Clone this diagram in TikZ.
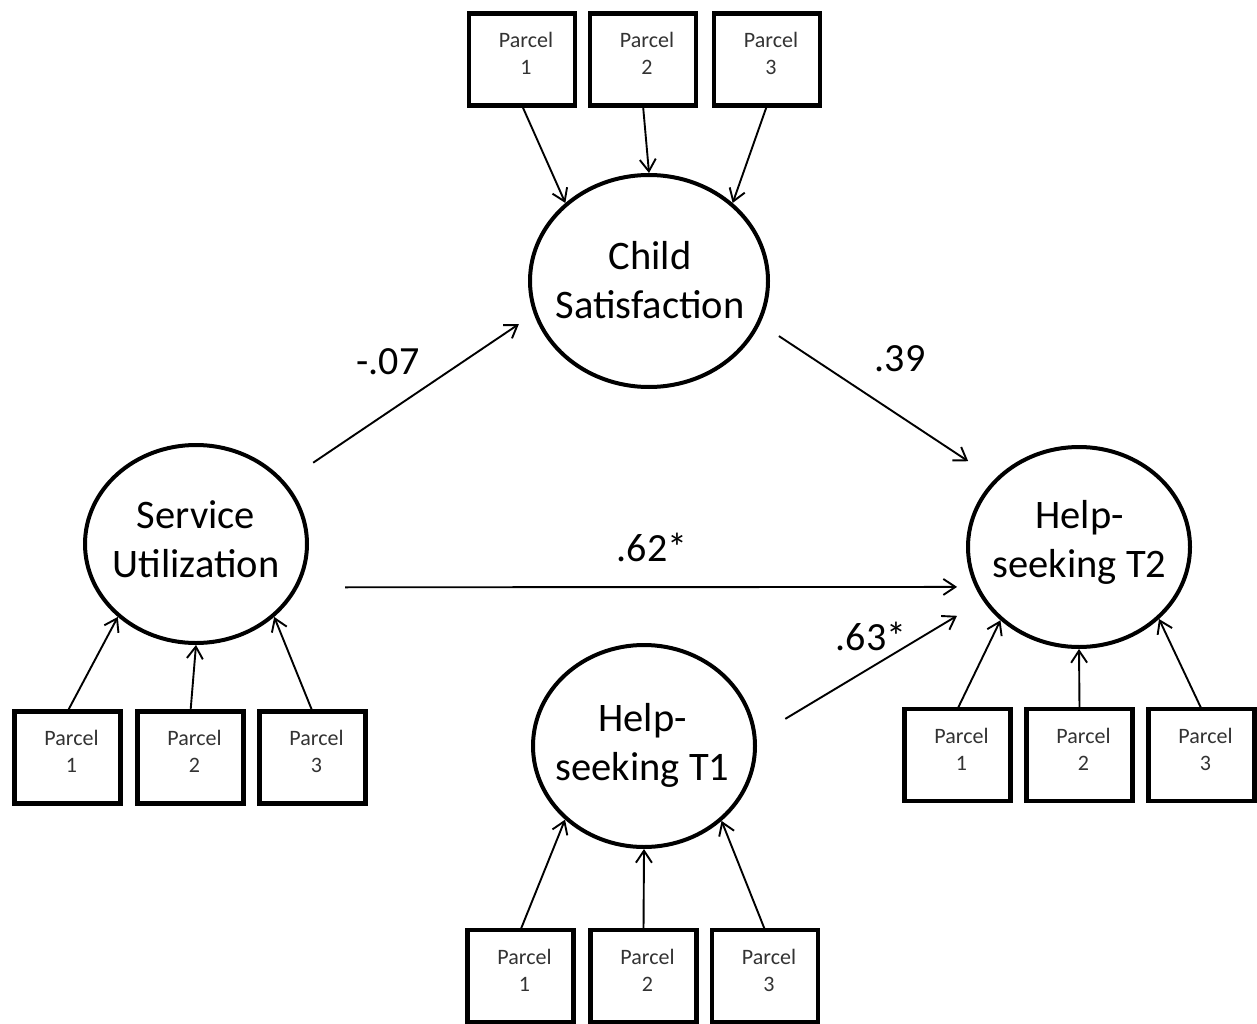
\documentclass[tikz,border=0pt]{standalone}
\usepackage{fontspec}
\setmainfont{Carlito}
\usetikzlibrary{arrows.meta,shapes.geometric}
\definecolor{ptextcol}{HTML}{333333}
\newcommand\parcelnode[4]{%
  \node[pbox] (#1) at (#2,#3) {};
  \node[ptext] (#1t) at ([shift={(4,-6)}]#1) {Parcel\\#4};}
\begin{document}
\begin{tikzpicture}[x=1pt,y=-1pt,
  latent/.style={ellipse,draw,line width=4pt,inner sep=0pt,fill=white},
  lt/.style={align=center,inner sep=0pt,font=\fontsize{40.5}{49}\selectfont},
  pbox/.style={rectangle,draw,line width=4.5pt,minimum width=106pt,minimum height=92pt,inner sep=0pt,outer sep=0pt},
  ptext/.style={align=center,inner sep=0pt,text=ptextcol,font=\fontsize{22}{27}\selectfont},
  arr/.style={line width=1.9pt,-{Straight Barb[length=12pt,width=16pt,line width=1.9pt]}},
  lbl/.style={inner sep=0pt,font=\fontsize{40}{48}\selectfont}]
\useasboundingbox[fill=white] (0,0) rectangle (1257,1024);

% latent variables
\node[latent,minimum width=238pt,minimum height=212pt] (cs) at (649,281) {};
\node[latent,minimum width=222pt,minimum height=198pt] (su) at (196,544) {};
\node[latent,minimum width=222pt,minimum height=200pt] (hs2) at (1079,547) {};
\node[latent,minimum width=222pt,minimum height=202pt] (hs1) at (644,746) {};

\node[lt] (cst) at (650,280) {Child\\Satisfaction};
\node[lt] (sut) at (196,539) {Service\\Utilization};
\node[lt] (hs2t) at (1079.5,542) {Help-\\seeking T2};
\node[lt] (hs1t) at (642.5,745) {Help-\\seeking T1};

% parcels
\parcelnode{c1}{522}{59.5}{1}
\parcelnode{c2}{643}{59.5}{2}
\parcelnode{c3}{767}{59.5}{3}
\parcelnode{s1}{67.5}{757.5}{1}
\parcelnode{s2}{190.5}{757.5}{2}
\parcelnode{s3}{312.5}{757.5}{3}
\parcelnode{t1}{957.5}{755}{1}
\parcelnode{t2}{1079.5}{755}{2}
\parcelnode{t3}{1201.5}{755}{3}
\parcelnode{b1}{520.5}{976}{1}
\parcelnode{b2}{643.5}{976}{2}
\parcelnode{b3}{765}{976}{3}

% indicator arrows
\draw[arr] (c1.south) -- (cs.137);
\draw[arr] (c2.south) -- (cs.90);
\draw[arr] (c3.south) -- (cs.43.5);
\draw[arr] (s1.north) -- (su.223);
\draw[arr] (s2.north) -- (su.270);
\draw[arr] (s3.north) -- (su.-43);
\draw[arr] (t1.north) -- (hs2.223.5);
\draw[arr] (t2.north) -- (hs2.270);
\draw[arr] (t3.north) -- (hs2.-42.7);
\draw[arr] (b1.north) -- (hs1.223);
\draw[arr] (b2.north) -- (hs1.270);
\draw[arr] (b3.north) -- (hs1.-44.5);

% structural paths
\draw[arr,shorten <=34pt,shorten >=18pt] (su.35.1) -- (cs.196.9);
\draw[arr,shorten <=22.5pt,shorten >=32pt] (cs.-21.9) -- (hs2.141.2);
\draw[arr,shorten <=47pt,shorten >=18pt] (su.-23.3) -- (hs2.201.5);
\draw[arr,shorten <=33.6pt,shorten >=30pt] (hs1.5.7) -- (hs2.209.2);

% path labels
\node[lbl] (l1) at (388,362) {-.07};
\node[lbl] (l2) at (900,359) {.39};
\node[lbl] (l3) at (652,547) {.62*};
\node[lbl] (l4) at (871,636) {.63*};
\end{tikzpicture}
\end{document}
